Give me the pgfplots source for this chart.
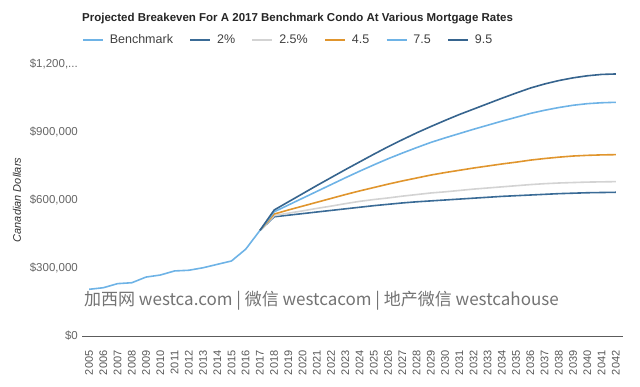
\documentclass[border=0pt]{standalone}
\usepackage{pgfplots}
\pgfplotsset{compat=1.18}
\usepackage{fontspec}
\setmainfont{Liberation Sans}
\newfontfamily\cjk{Noto Sans CJK SC}
\definecolor{lblue}{HTML}{6EB3E6}
\definecolor{dblue}{HTML}{3A6B96}
\definecolor{dblueb}{HTML}{36648E}
\definecolor{lgray}{HTML}{D3D3D3}
\definecolor{orng}{HTML}{E0952D}
\definecolor{tickgray}{HTML}{666666}
\definecolor{gridgray}{HTML}{DDDDDD}

\pgfplotstableread{
year val
2005 206000
2006 213000
2007 231000
2008 235000
2009 260000
2010 269000
2011 287000
2012 290000
2013 301000
2014 316000
2015 331000
2016 383000
2017 466000
}\bench

\pgfplotstableread{
year r2 r25 r45 r75 r95
2017 466000 466000 466000 466000 466000
2018 526000 531000 538000 548000 556000
2019 533000 542000 556000 578000 592000
2020 540000 552000 573000 608000 628000
2021 547000 563000 590000 638000 664000
2022 554000 573000 607000 668000 699000
2023 561000 584000 624000 698000 734000
2024 568000 594000 640000 727000 768000
2025 575000 602000 655000 755000 802000
2026 581000 609000 670000 782000 835000
2027 587000 617000 684000 807000 866000
2028 592000 624000 697000 831000 896000
2029 596000 631000 710000 854000 924000
2030 600000 636000 721000 874000 951000
2031 604000 642000 731000 893000 977000
2032 608000 648000 741000 912000 1001000
2033 612000 653000 750000 930000 1025000
2034 616000 658000 759000 948000 1049000
2035 619000 663000 767000 965000 1072000
2036 622000 668000 776000 982000 1094000
2037 625000 672000 783000 996000 1112000
2038 628000 675000 789000 1008000 1127000
2039 630000 677000 794000 1018000 1139000
2040 632000 679000 797000 1025000 1148000
2041 633000 680000 799000 1029000 1154000
2042 634000 681000 800000 1031000 1156000
}\proj

\begin{document}
\begin{tikzpicture}
\path[use as bounding box] (0,0) rectangle (640pt,387pt);
\node[anchor=west, font=\fontsize{11.5}{13}\selectfont\bfseries, text=black!85, inner sep=0pt] at (82pt,368pt) {Projected Breakeven For A 2017 Benchmark Condo At Various Mortgage Rates};
\begin{axis}[
  at={(82pt,51pt)}, anchor=south west,
  scale only axis, width=541pt, height=272pt,
  xmin=2004.5, xmax=2042.5,
  ymin=0, ymax=1200000,
  axis y line=none,
  axis x line*=bottom,
  axis line style={draw=tickgray!90!black, line width=0.8pt},
  xtick={2005,...,2042},
  x tick label style={rotate=90, anchor=east, font=\fontsize{11}{12}\selectfont, text=tickgray!85!black},
  xticklabel shift=11pt,
  xticklabel={\pgfmathprintnumber[1000 sep={},assume math mode=true]{\tick}},
  major tick length=0pt,
  ytick={0,300000,600000,900000,1200000},
  yticklabels={},
  ymajorgrids,
  grid style={gridgray, line width=0.8pt},
  clip=false,
  legend columns=6,
  legend style={at={(0,1)}, anchor=west, yshift=24pt, xshift=0pt, draw=none, fill=none, inner sep=0pt,
    font=\fontsize{12.5}{13}\selectfont, text=black!75,
    /tikz/every odd column/.append style={column sep=4pt},
    /tikz/every even column/.append style={column sep=14.5pt}},
  legend cell align=left,
  legend image code/.code={\draw[#1, line width=1.6pt] (0pt,0pt) -- (20pt,0pt);},
  every axis plot/.append style={line width=1.6pt, line join=round},
]
\addplot[lblue, no marks] table[x=year,y=val] {\bench};
\addlegendentry{Benchmark}
\addplot[dblue, no marks] table[x=year,y=r2] {\proj};
\addlegendentry{2\%}
\addplot[lgray, no marks] table[x=year,y=r25] {\proj};
\addlegendentry{2.5\%}
\addplot[orng, no marks] table[x=year,y=r45] {\proj};
\addlegendentry{4.5}
\addplot[lblue, no marks] table[x=year,y=r75] {\proj};
\addlegendentry{7.5}
\addplot[dblueb, no marks] table[x=year,y=r95] {\proj};
\addlegendentry{9.5}
\end{axis}
% y tick labels
\foreach \yy/\lab in {51/{\$0},119/{\$300,000},187/{\$600,000},255/{\$900,000},323/{\$1,200,...}}{
  \node[anchor=east, font=\fontsize{11.5}{13}\selectfont, text=tickgray, inner sep=0pt] at (78pt,\yy pt) {\lab};
}
\node[rotate=90, font=\fontsize{11}{13}\selectfont\itshape, text=black!80, inner sep=0pt] at (17pt,187pt) {Canadian Dollars};
\node[anchor=west, font=\cjk\fontsize{17}{19}\selectfont, text=black!55, inner sep=0pt] at (84pt,86pt) {加西网 westca.com | 微信 westcacom | 地产微信 westcahouse};
\end{tikzpicture}
\end{document}
